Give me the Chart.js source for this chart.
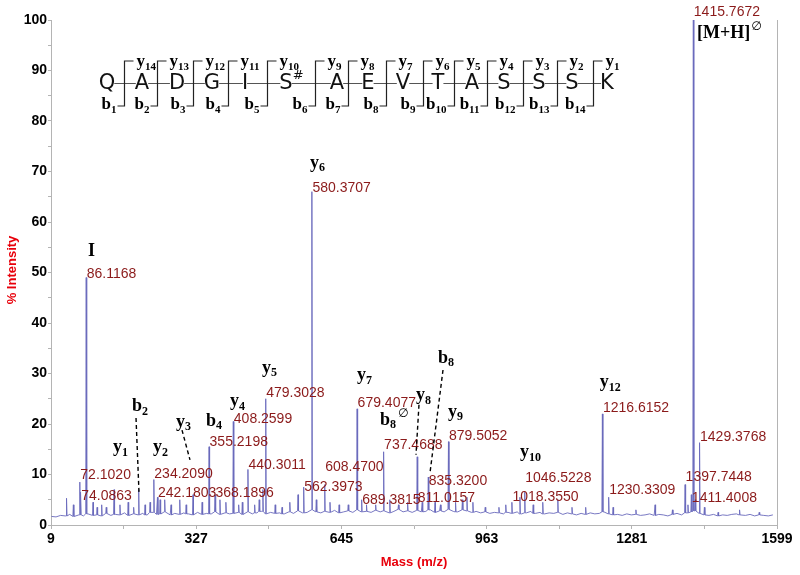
<!DOCTYPE html>
<html>
<head>
<meta charset="utf-8">
<script src="https://cdn.jsdelivr.net/npm/chart.js@4.4.1/dist/chart.umd.min.js"></script>
<style>
html, body { margin: 0; padding: 0; background: #fff; }
#wrap { width: 800px; height: 575px; }
</style>
</head>
<body>
<div id="wrap"><canvas id="spectrum" width="800" height="575"></canvas></div>
<script>
// peaks (m/z, % intensity)
const peakMz = [43, 58, 72.1020, 74.0863, 86.1168, 101, 110, 120, 130, 147.1,
    160, 178, 190, 201.1, 215, 226, 234.2090, 242.1803, 248, 258,
    272, 291, 305, 320, 340, 355.2198, 368.1896, 379, 392, 408.2599,
    420, 428, 440.3011, 455, 465, 473, 479.3028, 500, 515, 532,
    550, 562.3973, 580.3707, 590, 608.4700, 620, 640, 660, 679.4077, 689.3815,
    700, 720, 737.4688, 751, 770, 790, 811.0157, 822, 835.3200, 850,
    862, 879.5052, 895, 910, 920, 933, 960, 990, 1005, 1018.3550,
    1036, 1046.5228, 1065, 1086, 1119, 1150, 1180, 1216.6152, 1230.3309, 1240,
    1290, 1332, 1370, 1397.7448, 1404, 1411.4008, 1415.7672, 1420, 1429.3768, 1440,
    1470, 1517, 1560];
const peakInt = [5.3, 4, 8.5, 6.5, 49, 4.5, 3.5, 4, 3.5, 7,
    4, 4.5, 3.5, 7, 4, 4.5, 9, 5.5, 5, 5,
    4, 5, 4, 6, 4.5, 15.5, 6, 5, 4.5, 20.5,
    4, 4.5, 11, 4, 5, 7, 25, 4, 3.5, 4.5,
    6, 7.5, 66, 5, 8, 4.5, 4, 4, 23, 5,
    4, 4, 14.5, 5, 4, 4.5, 13.5, 4.5, 9.5, 4.5,
    4, 16.5, 4.5, 5, 5.5, 4.5, 3.5, 3.5, 4, 4.5,
    5.5, 6.5, 4, 4.5, 5, 3.5, 3.5, 22, 5.5, 3.5,
    3, 4, 3, 8, 4, 6, 100, 5, 16.3, 3.5,
    2.5, 3, 2.5];

// baseline noise, one reading every 10 Da starting at 10
const noiseStart = 10;
const noiseStep = 10;
const noiseInt = [
    1.7, 1.6, 1.9, 1.8, 2.1, 1.7, 2.0, 1.8, 2.2, 1.9,
    2.0, 1.8, 2.3, 1.9, 2.1, 2.0, 2.4, 1.9, 2.2, 2.0,
    2.3, 2.0, 2.5, 2.1, 2.2, 2.6, 2.0, 2.3, 2.1, 2.4,
    2.2, 2.0, 2.5, 2.1, 2.3, 2.2, 2.6, 2.1, 2.4, 2.2,
    2.3, 2.5, 2.1, 2.6, 2.2, 2.4, 2.7, 2.2, 2.5, 2.3,
    2.4, 2.2, 2.6, 2.3, 2.8, 2.4, 2.5, 3.0, 2.6, 2.4,
    2.7, 2.5, 2.9, 2.4, 2.6, 2.8, 2.5, 3.0, 2.6, 2.7,
    2.5, 2.9, 2.6, 2.8, 2.4, 2.7, 3.1, 2.6, 2.8, 2.5,
    2.9, 2.6, 2.7, 3.0, 2.5, 2.8, 2.6, 3.1, 2.7, 2.6,
    3.0, 2.8, 2.5, 2.7, 2.4, 2.6, 2.3, 2.5, 2.4, 2.2,
    2.5, 2.3, 2.6, 2.2, 2.4, 2.7, 2.3, 2.5, 2.2, 2.4,
    2.3, 2.5, 2.1, 2.4, 2.2, 2.0, 2.3, 2.1, 2.4, 2.2,
    2.3, 2.6, 2.2, 2.0, 2.1, 1.9, 2.2, 2.0, 2.1, 1.9,
    2.0, 2.2, 1.9, 2.1, 2.0, 1.8, 2.1, 2.3, 2.0, 2.4,
    2.6, 2.8, 2.3, 2.0, 1.9, 2.1, 1.8, 2.0, 1.9, 2.1,
    2.2, 2.0, 1.9, 2.1, 1.8, 2.0, 1.9, 1.8, 2.0];

// mass labels (text also gives the m/z) and the height they sit at
const labelText = ['72.1020', '74.0863', '86.1168', '234.2090', '242.1803', '355.2198', '368.1896',
    '408.2599', '440.3011', '479.3028', '562.3973', '580.3707', '608.4700', '679.4077',
    '689.3815', '737.4688', '811.0157', '835.3200', '879.5052', '1018.3550', '1046.5228',
    '1216.6152', '1230.3309', '1397.7448', '1411.4008', '1415.7672', '1429.3768'];
const labelLevel = [9.9, 5.7, 49.7, 10.1, 6.3, 16.4, 6.3,
    21.0, 11.9, 26.1, 7.5, 66.7, 11.5, 24.2,
    5.0, 15.8, 5.3, 8.7, 17.6, 5.5, 9.3,
    23.2, 6.9, 9.5, 5.3, 101.6, 17.4];

// ion assignments
const ionMain = ['I', 'y', 'b', 'y', 'y', 'b', 'y', 'y', 'y', 'y', 'b', 'y', 'b', 'y', 'y', 'y', '[M+H]'];
const ionSub = ['', '1', '2', '2', '3', '4', '4', '5', '6', '7', '8', '8', '8', '9', '10', '12', ''];
const ionSup = ['', '', '', '', '', '', '', '', '', '', '\u2205', '', '', '', '', '', '\u2205'];
const ionMz = [90, 144.8, 186.4, 232.4, 282.8, 348.5, 401, 471, 576, 679, 729.5, 808.4, 856.6, 878.5, 1036, 1211, 1424];
const ionLevel = [54.1, 15.4, 23.4, 15.4, 20.4, 20.6, 24.4, 31.1, 71.7, 29.7, 20.8, 25.7, 33.1, 22.4, 14.3, 28.3, 97.4];

// dashed leader lines: [m/z from, level from, m/z to, level to]
const leaders = [[195.2, 21.2, 201.7, 6.5], [295.9, 18.8, 313.4, 12.9],
    [814.9, 23.8, 808.4, 13.9], [867.5, 30.7, 839, 10.3]];

// peptide sequence
const seqLetters = ['Q', 'A', 'D', 'G', 'I', 'S', 'A', 'E', 'V', 'T', 'A', 'S', 'S', 'S', 'K'];
const seqMarks = ['', '', '', '', '', '#', '', '', '', '', '', '', '', '', ''];

const xTickVals = [9, 168, 327, 486, 645, 804, 963, 1122, 1281, 1440, 1599];
const xTickLabels = [9, 327, 645, 963, 1281, 1599];

// layout of the sequence diagram (pixels)
const seqX = [107, 142, 177, 212, 245, 286, 337, 368, 403, 438, 472, 504, 539, 572, 607];
const bracketX = [124, 157, 193, 228, 267, 315, 348, 386, 423, 454, 487, 523, 557, 593];

function baseAt(m)
{
    let i = Math.round((m - noiseStart) / noiseStep);
    i = Math.max(0, Math.min(noiseInt.length - 1, i));
    return noiseInt[i];
}

function buildTrace()
{
    const pts = [];
    for (let i = 0; i < noiseInt.length; i++)
    {
        const m = noiseStart + i * noiseStep;
        if (peakMz.some((p) => Math.abs(p - m) < 1.6))
        {
            continue;
        }
        pts.push({x: m, y: noiseInt[i]});
    }
    for (let i = 0; i < peakMz.length; i++)
    {
        const b = baseAt(peakMz[i]);
        pts.push({x: peakMz[i] - 1.1, y: b});
        pts.push({x: peakMz[i], y: peakInt[i]});
        pts.push({x: peakMz[i] + 1.1, y: b});
    }
    pts.sort((a, b) => a.x - b.x);
    return pts;
}

function drawIon(ctx, x, y, main, sub, sup, size)
{
    ctx.font = 'bold ' + size + 'px "Liberation Serif", "Times New Roman", serif';
    ctx.textAlign = 'left';
    ctx.textBaseline = 'middle';
    ctx.fillText(main, x, y);
    let w = ctx.measureText(main).width;
    const small = Math.round(size * 0.64);
    if (sub)
    {
        ctx.font = 'bold ' + small + 'px "Liberation Serif", "Times New Roman", serif';
        ctx.fillText(sub, x + w, y + size * 0.3);
        w += ctx.measureText(sub).width + 1;
    }
    if (sup)
    {
        ctx.font = small + 'px "DejaVu Sans", sans-serif';
        ctx.fillText(sup, x + w + 1, y - size * 0.32);
    }
}

const overlay = {
    id: 'overlay',
    afterDraw(chart)
    {
        const ctx = chart.ctx;
        const xs = chart.scales.x;
        const ys = chart.scales.y;
        ctx.save();

        // right frame line
        ctx.strokeStyle = '#b4b4b4';
        ctx.lineWidth = 1;
        ctx.beginPath();
        ctx.moveTo(Math.round(xs.right) + 0.5, ys.top);
        ctx.lineTo(Math.round(xs.right) + 0.5, ys.bottom);
        ctx.stroke();

        // mass labels
        ctx.fillStyle = '#8b1a1a';
        ctx.font = '14px "Liberation Sans", Arial, sans-serif';
        ctx.textAlign = 'left';
        ctx.textBaseline = 'middle';
        for (let i = 0; i < labelText.length; i++)
        {
            const m = parseFloat(labelText[i]);
            ctx.fillText(labelText[i], xs.getPixelForValue(m) + 0.5, ys.getPixelForValue(labelLevel[i]));
        }

        // ion labels
        ctx.fillStyle = '#000';
        for (let i = 0; i < ionMain.length; i++)
        {
            drawIon(ctx, xs.getPixelForValue(ionMz[i]), ys.getPixelForValue(ionLevel[i]),
                ionMain[i], ionSub[i], ionSup[i], 18);
        }

        // dashed leaders
        ctx.strokeStyle = '#000';
        ctx.lineWidth = 1.4;
        ctx.setLineDash([4, 3]);
        leaders.forEach((l) => {
            ctx.beginPath();
            ctx.moveTo(xs.getPixelForValue(l[0]), ys.getPixelForValue(l[1]));
            ctx.lineTo(xs.getPixelForValue(l[2]), ys.getPixelForValue(l[3]));
            ctx.stroke();
        });
        ctx.setLineDash([]);

        // sequence diagram
        const midY = 83;
        ctx.strokeStyle = '#555';
        ctx.lineWidth = 1;
        ctx.beginPath();
        ctx.moveTo(seqX[0], midY + 0.5);
        ctx.lineTo(seqX[seqX.length - 1], midY + 0.5);
        ctx.stroke();

        for (let i = 0; i < seqLetters.length; i++)
        {
            ctx.font = '21px "DejaVu Sans", Verdana, sans-serif';
            ctx.textAlign = 'center';
            ctx.textBaseline = 'middle';
            const w = ctx.measureText(seqLetters[i]).width;
            ctx.fillStyle = '#fff';
            ctx.fillRect(seqX[i] - w / 2 + 1, midY - 9, w - 2, 18);
            ctx.fillStyle = '#111';
            ctx.fillText(seqLetters[i], seqX[i], midY + 1);
            if (seqMarks[i])
            {
                ctx.font = '13px "DejaVu Sans", Verdana, sans-serif';
                ctx.textAlign = 'left';
                ctx.fillText(seqMarks[i], seqX[i] + w / 2, midY - 7);
            }
        }

        const topY = 61;
        const botY = 106;
        ctx.strokeStyle = '#222';
        ctx.lineWidth = 1.2;
        for (let i = 0; i < bracketX.length; i++)
        {
            const bx = bracketX[i] + 0.5;
            ctx.beginPath();
            ctx.moveTo(bx + 9, topY);
            ctx.lineTo(bx, topY);
            ctx.lineTo(bx, botY);
            ctx.lineTo(bx - 7, botY);
            ctx.stroke();

            ctx.fillStyle = '#000';
            drawIon(ctx, bx + 12, topY + 1, 'y', String(14 - i), '', 17);

            ctx.font = 'bold 17px "Liberation Serif", serif';
            const bw = ctx.measureText('b').width;
            ctx.font = 'bold 11px "Liberation Serif", serif';
            const sw = ctx.measureText(String(i + 1)).width;
            drawIon(ctx, bx - 8 - bw - sw, botY - 1, 'b', String(i + 1), '', 17);
        }

        // axis titles
        ctx.fillStyle = '#e8000b';
        ctx.font = 'bold 13px "Liberation Sans", Arial, sans-serif';
        ctx.textAlign = 'center';
        ctx.textBaseline = 'middle';
        ctx.fillText('Mass (m/z)', (xs.left + xs.right) / 2, 562);
        ctx.translate(12, 270);
        ctx.rotate(-Math.PI / 2);
        ctx.fillText('% Intensity', 0, 0);

        ctx.restore();
    }
};

const tickFont = {family: '"Liberation Sans", Arial, sans-serif', weight: 'bold', size: 14};

new Chart(document.getElementById('spectrum'), {
    type: 'line',
    data: {
        datasets: [{
            data: buildTrace(),
            borderColor: '#6a6abc',
            borderWidth: 0.9,
            borderJoinStyle: 'bevel',
            pointRadius: 0,
            tension: 0,
            fill: false
        }]
    },
    options: {
        responsive: false,
        animation: false,
        events: [],
        layout: {padding: {top: 20, right: 23, left: 0, bottom: 0}},
        plugins: {legend: {display: false}, tooltip: {enabled: false}},
        scales: {
            x: {
                type: 'linear',
                min: 9,
                max: 1599,
                afterBuildTicks: (s) => { s.ticks = xTickVals.map((v) => ({value: v})); },
                afterFit: (s) => { s.height = 50; },
                ticks: {
                    autoSkip: false,
                    maxRotation: 0,
                    padding: 2,
                    color: '#000',
                    font: tickFont,
                    callback: (v) => xTickLabels.includes(v) ? String(v) : ''
                },
                grid: {drawOnChartArea: false, drawTicks: true, tickLength: 4, color: '#b4b4b4'},
                border: {color: '#b4b4b4'}
            },
            y: {
                min: 0,
                max: 100,
                afterFit: (s) => { s.width = 51; },
                ticks: {
                    stepSize: 5,
                    autoSkip: false,
                    padding: 1,
                    color: '#000',
                    font: tickFont,
                    callback: (v) => v % 10 === 0 ? String(v) : ''
                },
                grid: {drawOnChartArea: false, drawTicks: true, tickLength: 3, color: '#b4b4b4'},
                border: {color: '#b4b4b4'}
            }
        }
    },
    plugins: [overlay]
});
</script>
</body>
</html>
